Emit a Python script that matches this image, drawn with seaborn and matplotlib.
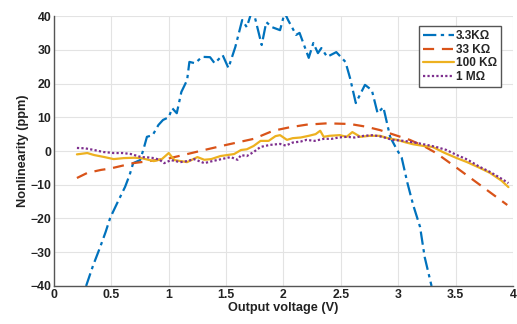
import matplotlib
matplotlib.use("Agg")
import matplotlib.pyplot as plt
import seaborn as sns
import numpy as np

# ---- data ----
x_33k3 = [0.28, 0.34, 0.40, 0.45, 0.49, 0.55, 0.62, 0.66, 0.69, 0.75, 0.78, 0.81, 0.86, 0.91, 0.95,
          1.00, 1.03, 1.07, 1.11, 1.16, 1.18, 1.23, 1.29, 1.36, 1.40, 1.47, 1.52, 1.58, 1.64, 1.68,
          1.72, 1.75, 1.81, 1.85, 1.90, 1.97, 2.01, 2.04, 2.11, 2.14, 2.22, 2.26, 2.30, 2.33, 2.38,
          2.46, 2.54, 2.58, 2.63, 2.71, 2.77, 2.82, 2.87, 2.93, 2.99, 3.03, 3.08, 3.13, 3.19, 3.23, 3.29]
y_33k3 = [-40, -34, -28.7, -24, -19.8, -15.5, -10.6, -7, -3.6, -2.7, 0.5, 4.2, 4.7, 7.7, 9.2,
          10, 12.7, 11.2, 17.5, 21, 26.4, 26, 27.9, 27.8, 26, 28.4, 24.6, 30.8, 38.8, 36.7,
          41, 39.7, 31.4, 38.2, 36.7, 35.8, 41, 38.8, 34.4, 35, 27.6, 32, 29, 30.5, 27.9,
          29.3, 26.4, 21.6, 14.2, 19.6, 18, 11.2, 13, 4.1, 0.3, -2.0, -9.5, -16, -22.5, -31.4, -40]

x_33k = [0.20, 0.29, 0.41, 0.49, 0.69, 0.85, 1.00, 1.15, 1.31, 1.50, 1.74, 1.91, 2.05, 2.20, 2.38,
         2.58, 2.72, 2.84, 3.01, 3.10, 3.22, 3.33, 3.51, 3.71, 3.95]
y_33k = [-8, -6.5, -5.6, -5.2, -3.6, -2.9, -2.2, -1.0, 0.3, 1.8, 3.6, 6.0, 7.0, 7.8, 8.2,
         8.0, 7.2, 6.2, 4.3, 3.3, 1.5, -0.6, -5, -10, -16]

x_100k = [0.20, 0.29, 0.35, 0.44, 0.52, 0.61, 0.70, 0.76, 0.87, 0.94, 1.00, 1.05, 1.16, 1.25, 1.31,
          1.37, 1.45, 1.51, 1.57, 1.63, 1.68, 1.74, 1.80, 1.87, 1.93, 1.97, 2.03, 2.08, 2.15, 2.22,
          2.28, 2.32, 2.35, 2.40, 2.49, 2.55, 2.60, 2.67, 2.75, 2.84, 2.92, 2.99, 3.06, 3.13, 3.22,
          3.30, 3.40, 3.51, 3.60, 3.71, 3.80, 3.90, 3.96]
y_100k = [-1.0, -0.6, -1.2, -1.8, -2.4, -2.1, -2.0, -2.1, -3.0, -2.4, -0.6, -2.7, -3.3, -1.8, -2.6,
          -2.4, -1.5, -1.2, -0.9, 0.3, 0.5, 1.5, 3.0, 3.0, 4.4, 4.7, 3.3, 3.8, 4.0, 4.5,
          5.0, 6.0, 4.2, 4.5, 4.7, 4.2, 5.6, 4.2, 4.5, 4.5, 3.7, 3.3, 2.6, 2.0, 1.5,
          1.2, -0.5, -2.1, -3.3, -5.0, -6.5, -8.8, -10.7]

x_1m = [0.20, 0.27, 0.35, 0.43, 0.52, 0.60, 0.67, 0.76, 0.82, 0.87, 0.92, 0.96, 1.02, 1.10, 1.16,
        1.22, 1.31, 1.38, 1.46, 1.54, 1.60, 1.63, 1.68, 1.74, 1.80, 1.88, 1.97, 2.02, 2.08, 2.15,
        2.20, 2.27, 2.35, 2.42, 2.48, 2.55, 2.62, 2.70, 2.78, 2.86, 2.95, 3.05, 3.16, 3.25, 3.33,
        3.42, 3.51, 3.60, 3.71, 3.80, 3.88, 3.96]
y_1m = [0.9, 0.8, 0.3, -0.3, -0.6, -0.6, -0.9, -1.8, -1.9, -2.1, -2.6, -3.6, -2.7, -3.3, -3.0,
        -2.4, -3.6, -3.0, -2.4, -1.8, -2.6, -1.2, -1.5, -0.3, 1.2, 1.8, 2.1, 1.6, 2.5, 2.8,
        3.3, 3.0, 3.6, 3.6, 4.0, 4.2, 4.0, 4.5, 4.7, 4.2, 3.3, 3.0, 2.4, 1.8, 1.2,
        0.3, -1.2, -2.5, -4.7, -6.2, -7.8, -9.5]

labels = ["3.3K\u03a9", "33 K\u03a9", "100 K\u03a9", "1 M\u03a9"]
x_ticks = [0, 0.5, 1, 1.5, 2, 2.5, 3, 3.5, 4]
y_ticks = [-40, -30, -20, -10, 0, 10, 20, 30, 40]

# ---- plot ----
sns.set_theme(style="whitegrid")
plt.rcParams['font.family'] = ['Liberation Sans', 'DejaVu Sans']

fig = plt.figure(figsize=(5.17, 3.24), dpi=100)
ax = fig.add_axes([0.1044, 0.1173, 0.8879, 0.8333])

series = [(x_33k3, y_33k3, "#0072BD", (0, (6, 2, 1.5, 2))),
          (x_33k, y_33k, "#D95319", (0, (5, 3.5))),
          (x_100k, y_100k, "#EDB120", "-"),
          (x_1m, y_1m, "#7E2F8E", (0, (1, 1)))]
for (xs, ys, c, ls), lab in zip(series, labels):
    sns.lineplot(x=xs, y=ys, ax=ax, color=c, linestyle=ls, linewidth=1.6,
                 label=lab, sort=False)

ax.set_xlim(0, 4)
ax.set_ylim(-40, 40)
ax.set_xticks(x_ticks)
ax.set_xticklabels([f"{t:g}" for t in x_ticks])
ax.set_yticks(y_ticks)
ax.set_facecolor("white")
ax.grid(True, color="#e3e3e3", linewidth=0.8)
for s in ["top", "right"]:
    ax.spines[s].set_visible(False)
for s in ["left", "bottom"]:
    ax.spines[s].set_visible(True)
    ax.spines[s].set_color("#555555")
    ax.spines[s].set_linewidth(1.0)
ax.tick_params(axis="both", labelsize=8.8, pad=2, length=0, colors="#222222")
for lbl in ax.get_xticklabels() + ax.get_yticklabels():
    lbl.set_fontweight("bold")
ax.set_xlabel("Output voltage (V)", fontsize=9.2, fontweight="bold", labelpad=1, color="#222222")
ax.set_ylabel("Nonlinearity (ppm)", fontsize=9.2, fontweight="bold", labelpad=1, color="#222222")

leg = ax.legend(loc="upper right", bbox_to_anchor=(0.982, 0.975),
                prop={"weight": "bold", "size": 8.5}, frameon=True, fancybox=False,
                handlelength=2.6, handletextpad=0.15, borderpad=0.35, labelspacing=0.12,
                borderaxespad=0.3)
leg.get_frame().set_edgecolor("#555555")
leg.get_frame().set_linewidth(1.0)
leg.get_frame().set_facecolor("white")
leg.get_frame().set_alpha(1.0)

fig.savefig("out.png", dpi=100)
